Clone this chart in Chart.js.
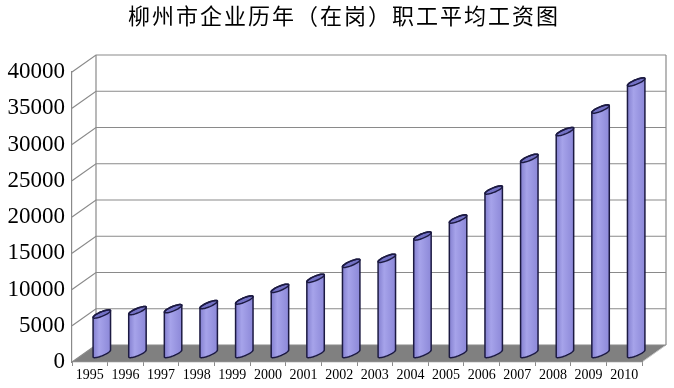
<!DOCTYPE html>
<html>
<head>
<meta charset="utf-8">
<script src="https://cdn.jsdelivr.net/npm/chart.js@4"></script>
<style>
  html, body { margin: 0; padding: 0; background: #fff; }
  #wrap { width: 674px; height: 388px; }
</style>
</head>
<body>
<div id="wrap"><canvas id="graficoSalarios"></canvas></div>
<script>
// 年份与平均工资（元）
var anios = ['1995', '1996', '1997', '1998', '1999', '2000', '2001', '2002',
             '2003', '2004', '2005', '2006', '2007', '2008', '2009', '2010'];
var salarios = [5450, 5910, 6180, 6740, 7380, 8990, 10370, 12440,
                13130, 16210, 18550, 22550, 26920, 30600, 33720, 37450];
var ticksY = [0, 5000, 10000, 15000, 20000, 25000, 30000, 35000, 40000];
var titulo = '柳州市企业历年（在岗）职工平均工资图';

// profundidad del efecto 3D
var DX = 24, DY = -17;
var GRIS = '#8a8a8a';

function colorCuerpo(ctx) {
    var chart = ctx.chart;
    var xs = chart.scales.x;
    if (!xs || ctx.dataIndex === undefined) return '#9d9ae2';
    var cx = xs.getPixelForValue(ctx.dataIndex);
    var w = xs.width / anios.length * 0.49;
    if (!isFinite(cx) || !isFinite(w) || w <= 0) return '#9d9ae2';
    var g = chart.ctx.createLinearGradient(cx - w / 2, 0, cx + w / 2, 0);
    g.addColorStop(0, '#8480d0');
    g.addColorStop(0.35, '#a6a3ea');
    g.addColorStop(1, '#8c88d8');
    return g;
}

// contorno de un cilindro
function silueta(c, cx, top, base, a) {
    var b = 2.4, s = 3.4, i, t;
    for (i = 0; i <= 24; i++) {
        t = Math.PI * i / 24;
        var px = cx + a * Math.cos(t), py = top - b * Math.sin(t) - s * Math.cos(t);
        if (i === 0) c.moveTo(px, py); else c.lineTo(px, py);
    }
    for (i = 0; i <= 24; i++) {
        t = Math.PI + Math.PI * i / 24;
        c.lineTo(cx + a * Math.cos(t), base - b * Math.sin(t) - s * Math.cos(t));
    }
    c.closePath();
}

function tapa(c, cx, top, a) {
    var b = 2.4, s = 3.4;
    c.beginPath();
    for (var i = 0; i <= 48; i++) {
        var t = 2 * Math.PI * i / 48;
        var px = cx + a * Math.cos(t), py = top - b * Math.sin(t) - s * Math.cos(t);
        if (i === 0) c.moveTo(px, py); else c.lineTo(px, py);
    }
    c.closePath();
}

var plugin3D = {
    id: 'efecto3d',
    beforeDraw: function (chart) {
        var c = chart.ctx, ca = chart.chartArea, ys = chart.scales.y;
        c.save();
        c.fillStyle = '#fff';
        c.fillRect(0, 0, chart.width, chart.height);
        // piso
        c.fillStyle = '#808080';
        c.beginPath();
        c.moveTo(ca.left, ca.bottom);
        c.lineTo(ca.left + DX, ca.bottom + DY);
        c.lineTo(ca.right + DX, ca.bottom + DY);
        c.lineTo(ca.right, ca.bottom);
        c.closePath();
        c.fill();
        c.strokeStyle = '#c8c8c8';
        c.lineWidth = 1;
        c.beginPath();
        c.moveTo(ca.right, ca.bottom);
        c.lineTo(ca.right + DX, ca.bottom + DY);
        c.stroke();
        // paredes y líneas de cuadrícula
        c.strokeStyle = GRIS;
        c.lineWidth = 1.2;
        ticksY.forEach(function (v) {
            var y = ys.getPixelForValue(v);
            c.beginPath();
            c.moveTo(ca.left, y);
            c.lineTo(ca.left + DX, y + DY);
            c.lineTo(ca.right + DX, y + DY);
            c.stroke();
        });
        c.beginPath();
        c.moveTo(ca.left + DX, ca.top + DY);
        c.lineTo(ca.left + DX, ca.bottom + DY);
        c.moveTo(ca.right + DX, ca.top + DY);
        c.lineTo(ca.right + DX, ca.bottom + DY);
        c.stroke();
        c.restore();
    },
    beforeDatasetsDraw: function (chart) {
        var c = chart.ctx, meta = chart.getDatasetMeta(0);
        var base = chart.scales.y.getPixelForValue(0);
        c.save();
        c.translate(DX / 2, DY / 2);
        // recorte con la forma de los cilindros
        c.beginPath();
        meta.data.forEach(function (bar) {
            silueta(c, bar.x, bar.y, base, bar.width / 2);
        });
        c.clip();
    },
    afterDatasetsDraw: function (chart) {
        var c = chart.ctx, meta = chart.getDatasetMeta(0);
        var base = chart.scales.y.getPixelForValue(0);
        c.restore();
        c.save();
        c.translate(DX / 2, DY / 2);
        meta.data.forEach(function (bar) {
            var a = bar.width / 2;
            // relleno del hueco superior derecho
            c.fillStyle = '#8c88d8';
            c.beginPath();
            c.moveTo(bar.x, bar.y);
            c.lineTo(bar.x + a, bar.y - 3.4);
            c.lineTo(bar.x + a, bar.y + 2);
            c.closePath();
            c.fill();
            // tapa
            tapa(c, bar.x, bar.y, a);
            c.fillStyle = '#7371c4';
            c.fill();
            c.strokeStyle = '#1c1a42';
            c.lineWidth = 1.5;
            c.stroke();
            c.beginPath();
            silueta(c, bar.x, bar.y, base, a);
            c.stroke();
        });
        c.restore();
    },
    afterDraw: function (chart) {
        var c = chart.ctx;
        c.save();
        c.fillStyle = '#000';
        c.font = '22px "Noto Sans CJK SC"';
        c.letterSpacing = '2px';
        c.textAlign = 'center';
        c.textBaseline = 'middle';
        c.fillText(titulo, 344, 16);
        c.restore();
    }
};

var ctx = document.getElementById('graficoSalarios').getContext('2d');
var graficoSalarios = new Chart(ctx, {
    type: 'bar',
    data: {
        labels: anios,
        datasets: [{
            label: '平均工资',
            data: salarios,
            base: -700,
            backgroundColor: colorCuerpo,
            borderWidth: 0,
            barPercentage: 0.49,
            categoryPercentage: 1.0,
            clip: false
        }]
    },
    options: {
        responsive: true,
        maintainAspectRatio: false,
        animation: false,
        layout: { padding: { left: 5, right: 32, top: 72, bottom: 0 } },
        plugins: {
            legend: { display: false },
            title: { display: false },
            tooltip: { enabled: false }
        },
        scales: {
            x: {
                grid: { display: true, drawOnChartArea: false, drawTicks: true, tickLength: 4, color: GRIS, offset: true },
                border: { display: true, color: GRIS, width: 1.2 },
                ticks: { color: '#000', padding: 1, maxRotation: 0, autoSkip: false,
                         font: { family: '"Liberation Serif"', size: 14 } },
                afterFit: function (scale) { scale.height = 26; }
            },
            y: {
                min: 0,
                max: 40000,
                afterBuildTicks: function (scale) {
                    scale.ticks = ticksY.map(function (v) { return { value: v }; });
                },
                grid: { display: false, drawTicks: false, tickLength: 0 },
                border: { display: true, color: GRIS, width: 1.2 },
                ticks: { color: '#000', padding: 7,
                         callback: function (v) { return String(v); },
                         font: { family: '"Liberation Serif"', size: 23 } },
                afterFit: function (scale) { scale.width = 67; }
            }
        }
    },
    plugins: [plugin3D]
});
</script>
</body>
</html>
